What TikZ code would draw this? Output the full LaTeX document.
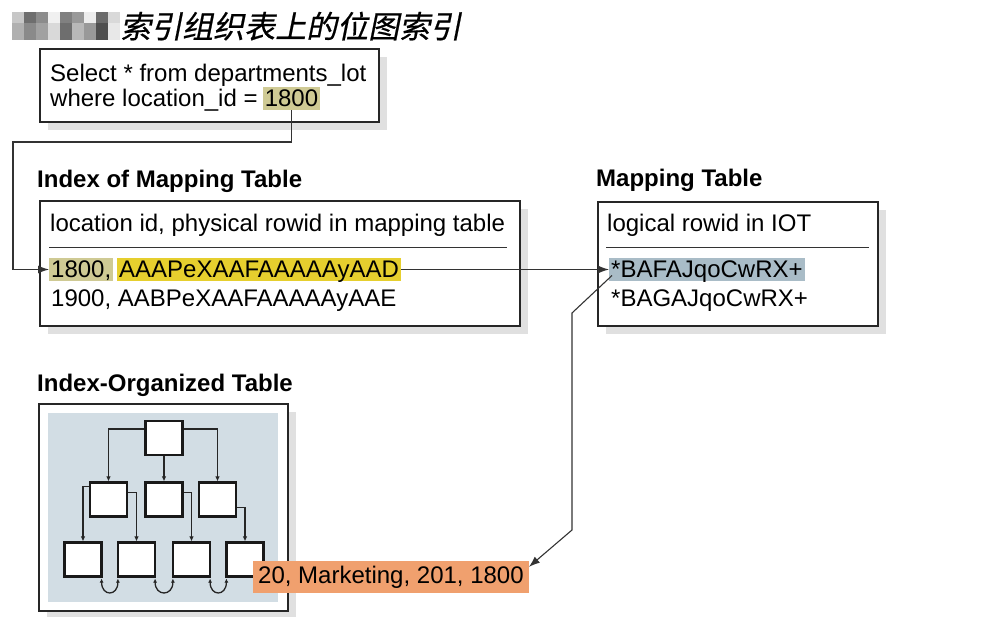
\documentclass[tikz,border=0pt]{standalone}
\usepackage{fontspec}
\setmainfont{Liberation Sans}
\newfontfamily\cjk{Noto Sans CJK SC}[FakeSlant=0.2,FakeBold=0.6]
\usetikzlibrary{arrows.meta,positioning,calc,shadows}
\definecolor{hlkhaki}{HTML}{CFCA94}
\definecolor{hlyellow}{HTML}{E6CF2E}
\definecolor{hlblue}{HTML}{A9BCC7}
\definecolor{hlorange}{HTML}{F0A06E}
\definecolor{iotbg}{HTML}{D2DDE4}
\tikzset{
  tbl/.style={draw=black!85,line width=2pt,fill=white,anchor=north west,inner sep=0pt,
    drop shadow={shadow xshift=8pt,shadow yshift=-8pt,fill=black!12,opacity=1}},
  txt/.style={anchor=base west,inner sep=0pt},
  hd/.style={txt,font=\fontsize{24}{28}\selectfont\bfseries},
  ttl/.style={txt,font=\fontsize{31}{34}\selectfont\cjk},
  hl/.style={txt,inner xsep=2pt,inner ysep=2.5pt,text height=17.5pt,text depth=0.5pt},
  rule/.style={draw=black!80,line width=1pt},
  flow/.style={-{Latex[length=11pt,width=8pt]},line width=1.1pt,draw=black!80},
  pg/.style={draw=black!90,line width=2.2pt,fill=white,minimum width=37pt,
    minimum height=34pt,inner sep=0pt},
  tflow/.style={-{Latex[length=5pt,width=4.5pt]},line width=1.3pt,draw=black!85},
  lnk/.style={{Latex[length=4pt,width=4pt]}-{Latex[length=4pt,width=4pt]},
    line width=1.3pt,draw=black!85},
}

\begin{document}
\begin{tikzpicture}[x=1pt,y=-1pt,font=\fontsize{24}{28}\selectfont]
  \useasboundingbox (0,0) rectangle (999,617);
  % pixelated prefix of the title
  \foreach \c [count=\i from 0] in {22,57,45,6,50,40,7,58,15}
    \fill[black!\c] (12+12*\i,12) rectangle (24+12*\i,23);
  \foreach \c [count=\i from 0] in {31,46,37,15,57,28,40,69,9}
    \fill[black!\c] (12+12*\i,23) rectangle (24+12*\i,40);
  \node[ttl] (title) at (120,38) {索引组织表上的位图索引};

  % query
  \node[tbl,minimum width=339,minimum height=73] (qry) at (39,48) {};
  \node[txt] (q1) at (50,82) {Select * from departments\_lot};
  \node[txt] (q2) at (50,107) {where location\_id =};
  \node[hl,fill=hlkhaki] (q1800) at ($(q2.base east)+(4.7,0)$) {1800};

  % index of mapping table
  \node[hd] (ixt) at (37,188) {Index of Mapping Table};
  \node[tbl,minimum width=480,minimum height=125] (ix) at (39,200) {};
  \node[txt] (ixh) at (50,232) {location id, physical rowid in mapping table};
  \draw[rule] ($(ix.north west)+(10,48)$) -- ($(ix.north east)+(-14,48)$);
  \node[hl,fill=hlkhaki] (r1800) at (49,278) {1800,};
  \node[hl,fill=hlyellow,right=3.5pt of r1800] (rAAD) {AAAPeXAAFAAAAAyAAD};
  \node[txt] (r1900) at (51,307) {1900, AABPeXAAFAAAAAyAAE};

  % mapping table
  \node[hd] (mpt) at (596,187) {Mapping Table};
  \node[tbl,minimum width=280,minimum height=124] (mp) at (597,201) {};
  \node[txt] (mph) at (607,232) {logical rowid in IOT};
  \draw[rule] ($(mp.north west)+(9,47)$) -- ($(mp.north east)+(-10,47)$);
  \node[hl,fill=hlblue] (mBAF) at (609,278) {*BAFAJqoCwRX+};
  \node[txt] (mBAG) at (611,307) {*BAGAJqoCwRX+};

  % index-organized table
  \node[hd] (iott) at (37,392) {Index-Organized Table};
  \node[tbl,minimum width=249,minimum height=207] (iot) at (38,403) {};
  \node[fill=iotbg,anchor=north west,minimum width=230,minimum height=189,
    inner sep=0pt] (iotin) at (48,413) {};
  \node[pg] (root) at (164,438) {};
  \node[pg] (m1) at (108.5,499.5) {};
  \node[pg] (m2) at (164,499.5) {};
  \node[pg] (m3) at (217.5,499.5) {};
  \node[pg] (b1) at (83,559.5) {};
  \node[pg] (b2) at (136.5,559.5) {};
  \node[pg] (b3) at (191.5,559.5) {};
  \node[pg] (b4) at (245,559.5) {};
  \draw[tflow] ($(root.north west)+(0,9)$) -| (m1.north);
  \draw[tflow] ($(root.north east)+(0,9)$) -| (m3.north);
  \draw[tflow] (root.south) -- (m2.north);
  \draw[tflow] ($(m1.north west)+(0,5)$) -| (b1.north);
  \draw[tflow] ($(m1.north east)+(0,11)$) -| (b2.north);
  \draw[tflow] ($(m2.north east)+(0,11)$) -| (b3.north);
  \draw[tflow] ($(m3.north east)+(0,26)$) -| (b4.north);
  \foreach \a/\b in {b1/b2,b2/b3,b3/b4}
    \draw[lnk] ($(\a.south east)+(-1,1)$) .. controls +(0,18) and +(0,18) .. ($(\b.south west)+(1,1)$);

  \node[txt,fill=hlorange,inner xsep=5pt,inner ysep=5pt,text height=17.5pt,
    text depth=5pt] (mkt) at (253,583) {20, Marketing, 201, 1800};

  % connectors
  \coordinate (qbend) at (13,142);
  \draw[flow] (q1800.south) |- (qbend) |- (r1800.west);
  \draw[flow] (rAAD.east) -- (mBAF.west);
  \coordinate (k1) at (572,313);
  \coordinate (k2) at (572,530);
  \draw[flow] ($(mBAF.west)+(3,6)$) -- (k1) -- (k2)
    -- ($(mkt.north east)!0.2!(mkt.south east)$);
\end{tikzpicture}
\end{document}
